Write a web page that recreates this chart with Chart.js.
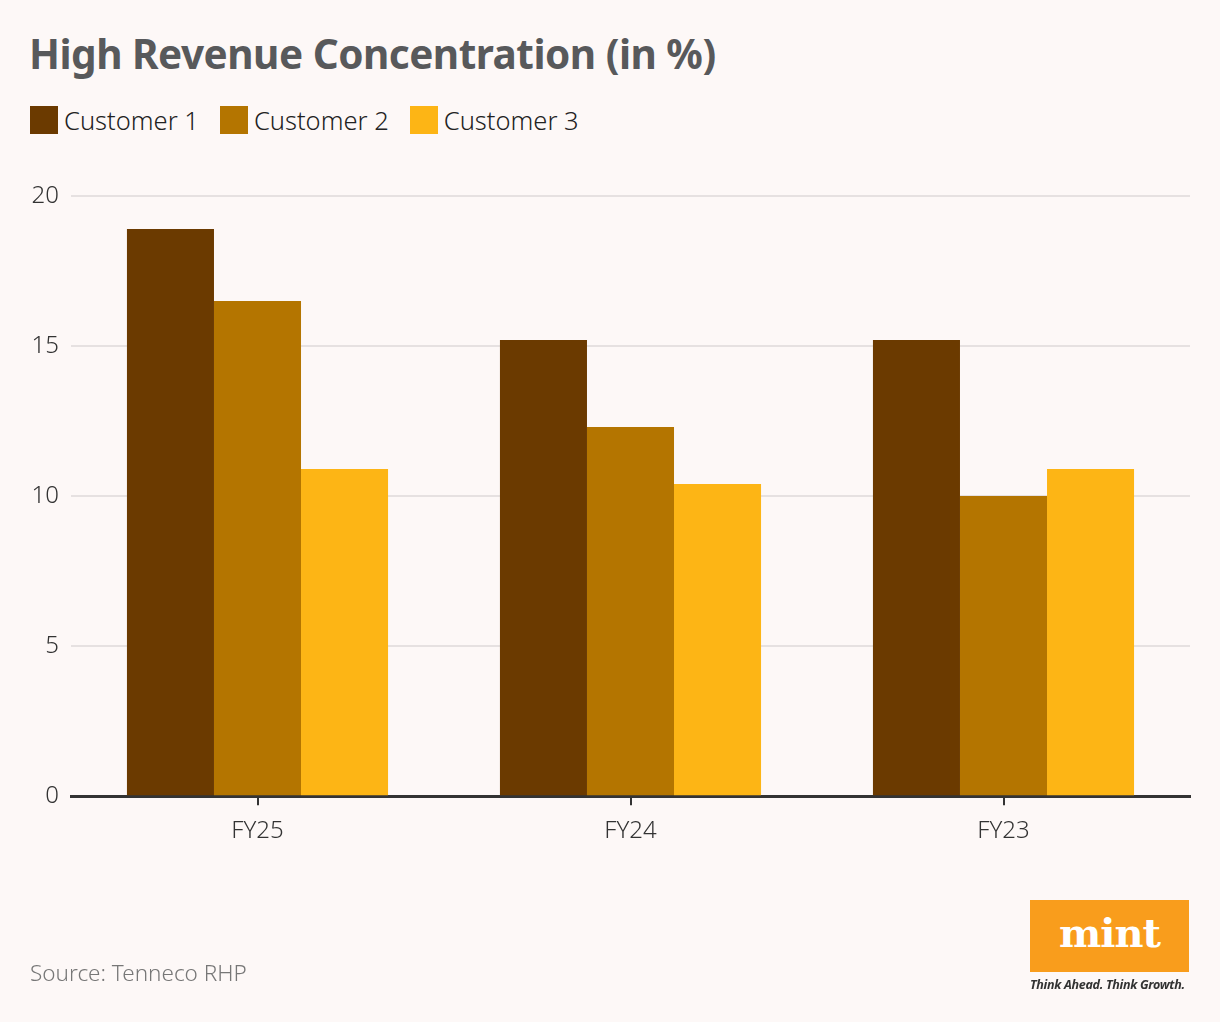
<!DOCTYPE html>
<html>
<head>
<meta charset="utf-8">
<script src="https://cdn.jsdelivr.net/npm/chart.js@4.4.1/dist/chart.umd.min.js"></script>
<style>
    html, body { margin: 0; padding: 0; background: #fdf8f7; }
    body { width: 1220px; height: 1022px; position: relative; overflow: hidden; font-family: "Noto Sans", sans-serif; }
    #title { position: absolute; left: 29px; top: 26px; font-size: 40.5px; font-weight: 700; color: #58595b; letter-spacing: -0.5px; }
    #legend { position: absolute; left: 30px; top: 103px; display: flex; }
    .lg-item { display: flex; align-items: center; margin-right: 21px; font-size: 25.5px; color: #222; font-weight: 300; }
    .lg-box { width: 28px; height: 28px; margin-right: 6px; }
    #wrap { position: absolute; left: 0; top: 0; width: 1220px; height: 1022px; }
    #source { position: absolute; left: 30px; top: 957px; font-size: 22.5px; color: #777; font-weight: 300; }
    #logo { position: absolute; left: 1030px; top: 900px; width: 159px; height: 72px; background: #f99d1c;
            color: #fff; font-family: "DejaVu Serif", serif; font-weight: 700; font-size: 40px; text-align: center; line-height: 66px; letter-spacing: -1px; }
    #tag { position: absolute; left: 1030px; top: 976px; width: 162px; font-size: 12.5px; font-style: italic; font-weight: 700; color: #333; white-space: nowrap; letter-spacing: -0.3px; }
</style>
</head>
<body>
<div id="title">High Revenue Concentration (in %)</div>
<div id="legend"></div>
<div id="wrap"><canvas id="chart"></canvas></div>
<div id="source">Source: Tenneco RHP</div>
<div id="logo">mint</div>
<div id="tag">Think Ahead. Think Growth.</div>
<script>
const categories = ['FY25', 'FY24', 'FY23'];
const seriesNames = ['Customer 1', 'Customer 2', 'Customer 3'];
const customer1 = [18.9, 15.2, 15.2];
const customer2 = [16.5, 12.3, 10.0];
const customer3 = [10.9, 10.4, 10.9];
const colors = ['#6b3a00', '#b47500', '#fdb515'];
const yTicks = [0, 5, 10, 15, 20];

// legend
const legend = document.getElementById('legend');
seriesNames.forEach((name, i) => {
    const item = document.createElement('div');
    item.className = 'lg-item';
    item.innerHTML = `<span class="lg-box" style="background:${colors[i]}"></span>${name}`;
    legend.appendChild(item);
});

const ctx = document.getElementById('chart').getContext('2d');
new Chart(ctx, {
    type: 'bar',
    data: {
        labels: categories,
        datasets: [customer1, customer2, customer3].map((d, i) => ({
            label: seriesNames[i], data: d, backgroundColor: colors[i], borderWidth: 0
        }))
    },
    options: {
        responsive: true,
        maintainAspectRatio: false,
        animation: false,
        layout: { padding: { left: 30, right: 30, top: 196, bottom: 164 } },
        barPercentage: 1.0,
        categoryPercentage: 0.7,
        plugins: { legend: { display: false }, tooltip: { enabled: false } },
        scales: {
            x: {
                grid: { display: true, drawOnChartArea: false, drawTicks: true, tickLength: 9, offset: false, color: '#333', lineWidth: 2 },
                border: { display: true, color: '#333', width: 3 },
                ticks: { color: '#333', font: { family: 'Noto Sans', size: 24, weight: '300' }, padding: 12 }
            },
            y: {
                min: 0, max: 20,
                afterBuildTicks: (axis) => { axis.ticks = yTicks.map(v => ({ value: v })); },
                grid: { color: '#e6e1e1', lineWidth: 2, drawTicks: false },
                border: { display: false },
                ticks: { color: '#333', font: { family: 'Noto Sans', size: 24, weight: '300' }, padding: 12 },
                afterFit: (axis) => { axis.width = 41; }
            }
        }
    }
});
</script>
</body>
</html>
